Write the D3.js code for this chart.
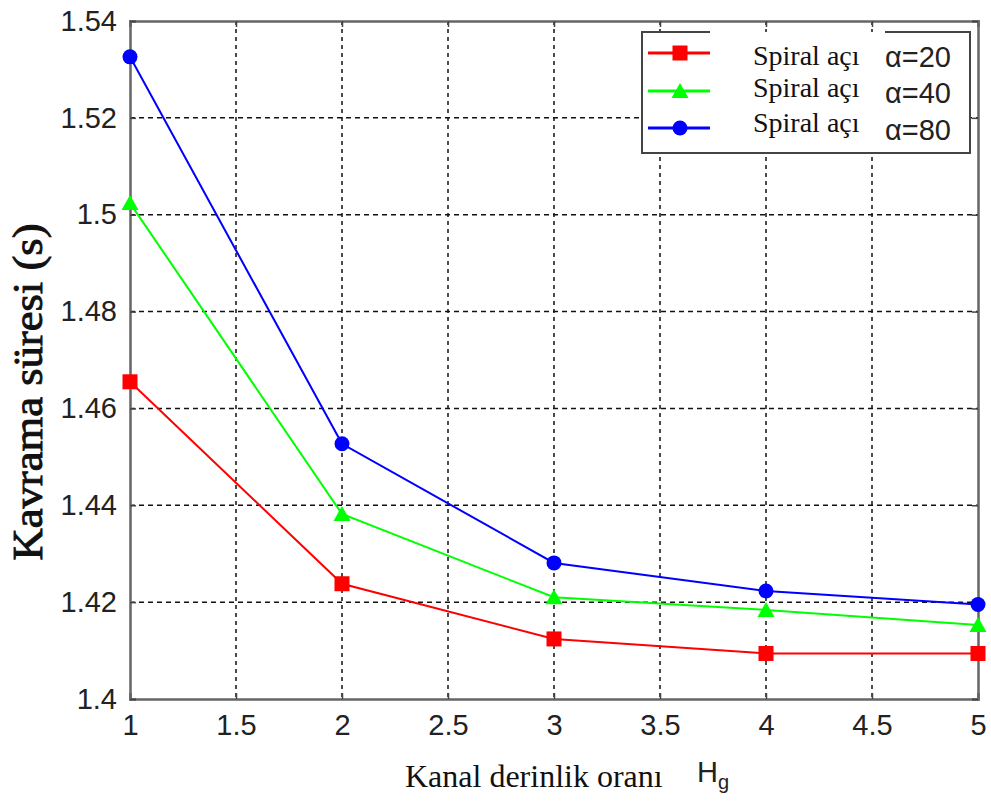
<!DOCTYPE html>
<html>
<head>
<meta charset="utf-8">
<script src="https://cdn.jsdelivr.net/npm/d3@7"></script>
<style>
  body { margin: 0; background: #fff; }
  svg { display: block; }
</style>
</head>
<body>
<div id="chart"></div>
<script>
// chart values
var depthRatio = [1, 2, 3, 4, 5];
var alpha20 = [1.4655, 1.4238, 1.4124, 1.4094, 1.4094];
var alpha40 = [1.5024, 1.4382, 1.4210, 1.4184, 1.4153];
var alpha80 = [1.5326, 1.4527, 1.4281, 1.4223, 1.4195];
var seriesNames = ["\u03b1=20", "\u03b1=40", "\u03b1=80"];
var xTicks = [1, 1.5, 2, 2.5, 3, 3.5, 4, 4.5, 5];
var yTicks = [1.4, 1.42, 1.44, 1.46, 1.48, 1.5, 1.52, 1.54];

var outerwidth = 991, outerheight = 802;
var margin = {left: 130, right: 12, top: 21, bottom: 103};

var series = [
	{name: seriesNames[0], values: alpha20, color: "#ff0000", marker: "square"},
	{name: seriesNames[1], values: alpha40, color: "#00ff00", marker: "triangle"},
	{name: seriesNames[2], values: alpha80, color: "#0000ff", marker: "circle"}
];

var svg = d3.select("#chart")
	.append("svg")
	.attr("width", outerwidth)
	.attr("height", outerheight);

var x = d3.scaleLinear().domain([1, 5]).range([0, 848]);
var y = d3.scaleLinear().domain([1.4, 1.54]).range([678, 0]);

var g = svg.append("g")
	.attr("transform", "translate(" + margin.left + "," + margin.top + ")");

// dashed grid
g.selectAll(".vgrid")
	.data(xTicks.slice(1, -1))
	.enter().append("line")
	.attr("x1", d => x(d)).attr("x2", d => x(d))
	.attr("y1", 0).attr("y2", y(1.4))
	.attr("stroke", "#111").attr("stroke-width", 1.5)
	.attr("stroke-dasharray", "4,4");

g.selectAll(".hgrid")
	.data(yTicks.slice(1, -1))
	.enter().append("line")
	.attr("x1", 0).attr("x2", x(5))
	.attr("y1", d => y(d)).attr("y2", d => y(d))
	.attr("stroke", "#111").attr("stroke-width", 1.5)
	.attr("stroke-dasharray", "5,4");

// axes with inward ticks
var xAxisBottom = d3.axisBottom(x).tickValues(xTicks).tickSize(-6).tickPadding(14)
	.tickFormat(d3.format("~g"));
var xAxisTop = d3.axisTop(x).tickValues(xTicks).tickSize(-6).tickFormat("");
var yAxisLeft = d3.axisLeft(y).tickValues(yTicks).tickSize(-6).tickPadding(14)
	.tickFormat(d3.format("~g"));
var yAxisRight = d3.axisRight(y).tickValues(yTicks).tickSize(-6).tickFormat("");

var gx = g.append("g").attr("transform", "translate(0," + y(1.4) + ")").call(xAxisBottom);
var gxt = g.append("g").call(xAxisTop);
var gy = g.append("g").call(yAxisLeft);
var gyr = g.append("g").attr("transform", "translate(" + x(5) + ",0)").call(yAxisRight);

[gx, gxt, gy, gyr].forEach(function(a) {
	a.select(".domain").attr("stroke", "#666").attr("stroke-width", 2.5);
	a.selectAll(".tick line").attr("stroke", "#444").attr("stroke-width", 1.5);
	a.selectAll("text")
		.attr("fill", "#222")
		.style("font-family", "'Liberation Sans', Arial, sans-serif")
		.style("font-size", "29px");
});
gx.selectAll("text").attr("dy", "0.71em").attr("y", 15);
gy.selectAll("text").attr("x", -13);

// lines and markers
var line = d3.line()
	.x((d, i) => x(depthRatio[i]))
	.y(d => y(d));

series.forEach(function(s) {
	g.append("path")
		.datum(s.values)
		.attr("d", line)
		.attr("fill", "none")
		.attr("stroke", s.color)
		.attr("stroke-width", 2);
});

function drawMarker(sel, type, color) {
	if (type == "square") {
		sel.append("rect").attr("x", -7.5).attr("y", -7.5).attr("width", 15).attr("height", 15).attr("fill", color);
	} else if (type == "triangle") {
		sel.append("path").attr("d", "M0,-8L8.5,7L-8.5,7Z").attr("fill", color);
	} else {
		sel.append("circle").attr("r", 7.5).attr("fill", color);
	}
}

series.forEach(function(s) {
	g.selectAll(null)
		.data(s.values)
		.enter().append("g")
		.attr("transform", (d, i) => "translate(" + x(depthRatio[i]) + "," + y(d) + ")")
		.each(function() { drawMarker(d3.select(this), s.marker, s.color); });
});

// legend (top border has a gap, as in the source picture)
var lg = svg.append("g").attr("transform", "translate(642,32)");
lg.append("rect").attr("width", 328).attr("height", 121).attr("fill", "#fff");
lg.append("path")
	.attr("d", "M68,0H0V121H328V0H243")
	.attr("fill", "none").attr("stroke", "#444").attr("stroke-width", 2);

var legRowsLine = [21, 59, 96];
var legRowsText = [33, 65, 100];
var legRowsAlpha = [35, 71, 108];
series.forEach(function(s, i) {
	lg.append("line")
		.attr("x1", 6).attr("x2", 68)
		.attr("y1", legRowsLine[i]).attr("y2", legRowsLine[i])
		.attr("stroke", s.color).attr("stroke-width", 3);
	var m = lg.append("g").attr("transform", "translate(38," + legRowsLine[i] + ")");
	drawMarker(m, s.marker, s.color);
	lg.append("text")
		.attr("x", 111).attr("y", legRowsText[i])
		.style("font-family", "'Liberation Serif', 'Times New Roman', serif")
		.style("font-size", "28px")
		.attr("fill", "#111")
		.text("Spiral açı");
	lg.append("text")
		.attr("x", 243).attr("y", legRowsAlpha[i])
		.style("font-family", "'Liberation Sans', Arial, sans-serif")
		.style("font-size", "29px")
		.attr("fill", "#222")
		.text(s.name);
});

// axis titles
svg.append("text")
	.attr("x", 405).attr("y", 787)
	.style("font-family", "'Liberation Serif', 'Times New Roman', serif")
	.style("font-size", "32px")
	.attr("fill", "#111")
	.text("Kanal derinlik oranı");

var hg = svg.append("text")
	.attr("x", 697).attr("y", 782)
	.style("font-family", "'Liberation Sans', Arial, sans-serif")
	.style("font-size", "29px")
	.attr("fill", "#222");
hg.append("tspan").text("H");
hg.append("tspan").attr("dy", 7).style("font-size", "20px").text("g");

svg.append("text")
	.attr("transform", "translate(42,392) rotate(-90)")
	.attr("text-anchor", "middle")
	.style("font-family", "'Liberation Serif', 'Times New Roman', serif")
	.style("font-size", "42px")
	.attr("stroke", "#111").attr("stroke-width", 0.9)
	.attr("textLength", 337)
	.attr("lengthAdjust", "spacingAndGlyphs")
	.attr("fill", "#111")
	.text("Kavrama süresi (s)");
</script>
</body>
</html>
